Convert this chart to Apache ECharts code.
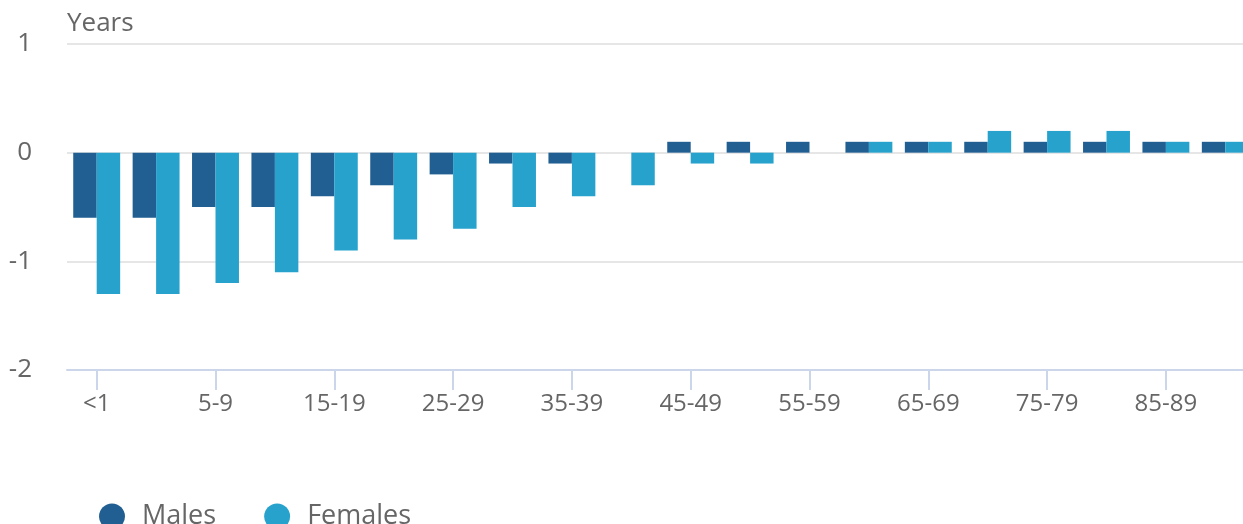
<!DOCTYPE html>
<html>
<head>
<meta charset="utf-8">
<script src="https://cdn.jsdelivr.net/npm/echarts@6/dist/echarts.min.js"></script>
<style>
html, body { margin: 0; padding: 0; background: #fff; }
#chart { width: 1243px; height: 524px; }
</style>
</head>
<body>
<div id="chart"></div>
<script>
// Age groups along the horizontal axis
const ageGroups = ['<1', '1-4', '5-9', '10-14', '15-19', '20-24', '25-29', '30-34', '35-39', '40-44',
  '45-49', '50-54', '55-59', '60-64', '65-69', '70-74', '75-79', '80-84', '85-89', '90+'];

// Change in years, by sex
const males = [-0.6, -0.6, -0.5, -0.5, -0.4, -0.3, -0.2, -0.1, -0.1, 0,
  0.1, 0.1, 0.1, 0.1, 0.1, 0.1, 0.1, 0.1, 0.1, 0.1];
const females = [-1.3, -1.3, -1.2, -1.1, -0.9, -0.8, -0.7, -0.5, -0.4, -0.3,
  -0.1, -0.1, 0, 0.1, 0.1, 0.2, 0.2, 0.2, 0.1, 0.1];

const FONT = '"Open Sans", "Noto Sans", sans-serif';
const TEXT = '#666666';

const chart = echarts.init(document.getElementById('chart'), null, { renderer: 'canvas' });
chart.setOption({
  animation: false,
  color: ['#215f92', '#27a2cd'],
  title: {
    text: 'Years',
    left: 62,
    top: 6,
    textStyle: { color: TEXT, fontSize: 26, fontWeight: 'normal', fontFamily: FONT }
  },
  legend: {
    data: ['Males', 'Females'],
    left: 94,
    top: 498,
    icon: 'circle',
    itemWidth: 26,
    itemHeight: 26,
    itemGap: 48,
    textStyle: { color: TEXT, fontSize: 27, fontFamily: FONT, padding: [0, 0, 0, 12] }
  },
  grid: {
    left: 67, top: 44, width: 1188, bottom: 154,
    containLabel: false, outerBoundsMode: 'none'
  },
  xAxis: {
    type: 'category',
    data: ageGroups,
    position: 'bottom',
    axisLine: { onZero: false, lineStyle: { color: '#ccd6eb', width: 2 } },
    axisTick: { show: true, alignWithLabel: true, length: 20, interval: 1, lineStyle: { color: '#ccd6eb', width: 2 } },
    axisLabel: { interval: 1, color: TEXT, fontSize: 24, fontFamily: FONT, margin: 22 }
  },
  yAxis: {
    type: 'value',
    min: -2,
    max: 1,
    interval: 1,
    axisLine: { show: false },
    axisTick: { show: false },
    splitLine: { lineStyle: { color: '#e6e6e6', width: 2 } },
    axisLabel: { color: TEXT, fontSize: 26, fontFamily: FONT, margin: 35 }
  },
  series: [
    {
      name: 'Males',
      type: 'bar',
      data: males,
      barGap: '0%',
      barCategoryGap: '21%'
    },
    {
      name: 'Females',
      type: 'bar',
      data: females,
      barGap: '0%',
      barCategoryGap: '21%'
    }
  ]
});
</script>
</body>
</html>
